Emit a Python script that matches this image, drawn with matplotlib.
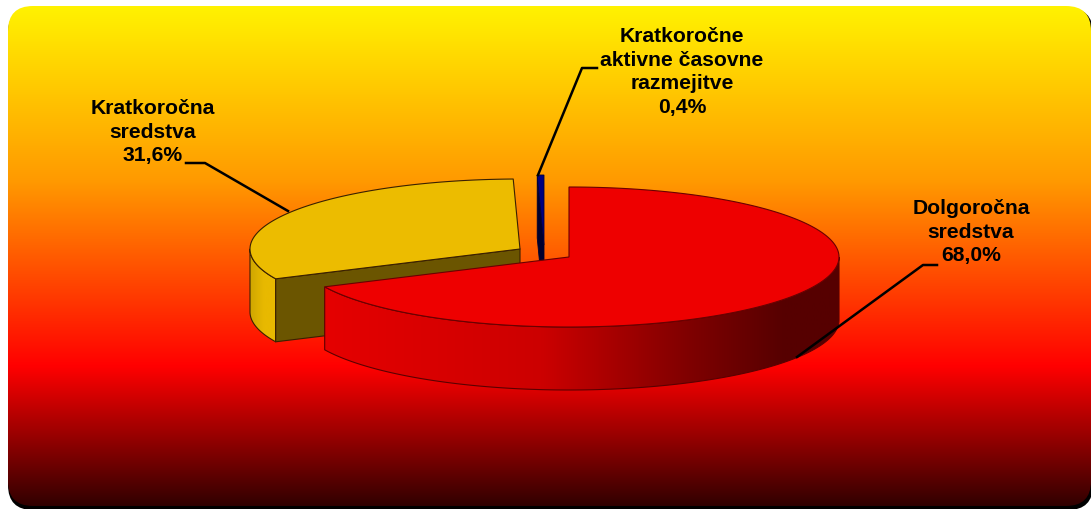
import numpy as np
import matplotlib
matplotlib.use('Agg')
import matplotlib.pyplot as plt
from matplotlib.colors import LinearSegmentedColormap
from matplotlib.patches import FancyBboxPatch, Polygon

### Data ###

labels = ['Dolgoročna\nsredstva\n68,0%',
          'Kratkoročna\nsredstva\n31,6%',
          'Kratkoročne\naktivne časovne\nrazmejitve\n0,4%']
values = [68.0, 31.6, 0.4]

### Layout ###

W, H = 1091, 509
A, B = 270, 70  # pie ellipse radii in pixels
DEPTH = 63
centers = [(569, 257), (520, 249), (544, 245)]
label_pos = [(971, 232), (153, 132), (682, 72)]
leaders = [[(937, 265), (923, 265), (797, 357)],
           [(186, 163), (205, 163), (288, 211)],
           [(597, 68), (582, 68), (538, 175)]]


def arc(center, a0, a1, n=200):
    """points of the rim, angles are clockwise from the top in degrees"""
    t = np.radians(np.linspace(a0, a1, n))
    return np.column_stack([center[0] + A * np.sin(t), center[1] - B * np.cos(t)])


def wall(center, a0, a1):
    top = arc(center, a0, a1)
    bottom = top[::-1] + [0, DEPTH]
    return np.vstack([top, bottom])


def cut_face(center, angle):
    rim = arc(center, angle, angle, 1)[0]
    c = np.array(center, dtype=float)
    return np.array([c, rim, rim + [0, DEPTH], c + [0, DEPTH]])


def top_face(center, a0, a1):
    return np.vstack([[center], arc(center, a0, a1)])


fig = plt.figure(figsize=(W / 100, H / 100), dpi=100, facecolor='white')
ax = fig.add_axes([0, 0, 1, 1])
ax.set_xlim(0, W)
ax.set_ylim(H, 0)
ax.axis('off')

# background with the black edge under it
ax.add_patch(FancyBboxPatch((8 + 25, 8 + 25), W - 8 - 50 + 2, H - 8 - 50 + 1,
                            boxstyle='round,pad=25', fc='black', ec='none', zorder=0))
frame = FancyBboxPatch((8 + 25, 6 + 25), W - 8 - 50, H - 8 - 50 - 1,
                       boxstyle='round,pad=25', fc='none', ec='none', zorder=1)
ax.add_patch(frame)
bg_cmap = LinearSegmentedColormap.from_list(
    'bg', [(0, '#fff200'), (0.35, '#ff9900'), (0.72, '#ff0000'), (1, '#300000')])
bg = ax.imshow(np.linspace(0, 1, 256)[:, None], cmap=bg_cmap, aspect='auto',
               extent=[8, W, 507, 6], zorder=1)
bg.set_clip_path(frame)
ax.set_xlim(0, W)
ax.set_ylim(H, 0)

# slice angles come from the values
edges = np.cumsum([0] + values) / sum(values) * 360
a_red = (edges[0], edges[1])
a_yel = (edges[1], edges[2])
a_blu = (edges[2], edges[3])
outline = dict(ec='#3a2000', lw=0.8, joinstyle='round')

# blue slice
c = centers[2]
ax.add_patch(Polygon(cut_face(c, a_blu[0]), fc='#00002e', ec='#00002e', lw=0.6, zorder=2))
ax.add_patch(Polygon(top_face(c, *a_blu), fc='#000080', ec='#000040', lw=0.6, zorder=3))

# yellow slice
c = centers[1]
wall_cmap = LinearSegmentedColormap.from_list('w', ['#cfa600', '#e8b900', '#e8b900'])
poly = Polygon(wall(c, a_yel[0], 270), fc='none', ec='none', zorder=4)
ax.add_patch(poly)
im = ax.imshow(np.linspace(0, 1, 64)[None, :], cmap=wall_cmap, aspect='auto',
               extent=[c[0] - A, c[0] - A + 28, H, 0], zorder=4)
im.set_clip_path(poly)
ax.add_patch(Polygon(wall(c, a_yel[0], 270), fc='none', zorder=4.1, **outline))
ax.add_patch(Polygon(cut_face(c, a_yel[0]), fc='#6b5500', zorder=5, **outline))
ax.add_patch(Polygon(top_face(c, *a_yel), fc='#ecbc00', zorder=6, **outline))

# red slice
c = centers[0]
red_cmap = LinearSegmentedColormap.from_list(
    'r', [(0, '#e80000'), (0.45, '#cc0000'), (0.72, '#800000'), (0.9, '#560000'), (1, '#560000')])
poly = Polygon(wall(c, 90, a_red[1]), fc='none', ec='none', zorder=7)
ax.add_patch(poly)
im = ax.imshow(np.linspace(0, 1, 256)[None, :], cmap=red_cmap, aspect='auto',
               extent=[c[0] - A, c[0] + A, H, 0], zorder=7)
im.set_clip_path(poly)
ax.add_patch(Polygon(wall(c, 90, a_red[1]), fc='none', ec='#5a0000', lw=0.8, zorder=7.1))
ax.add_patch(Polygon(top_face(c, *a_red), fc='#ee0000', ec='#6a0000', lw=0.8, zorder=8))

ax.set_xlim(0, W)
ax.set_ylim(H, 0)

# labels and leader lines
for text, pos, line in zip(labels, label_pos, leaders):
    ax.text(pos[0], pos[1], text, ha='center', va='center', fontsize=15.2,
            fontweight='bold', family='Liberation Sans', color='black',
            linespacing=1.3, zorder=10)
    ax.plot([p[0] for p in line], [p[1] for p in line], color='black', lw=1.8, zorder=9)

fig.savefig('out.png', dpi=100)
